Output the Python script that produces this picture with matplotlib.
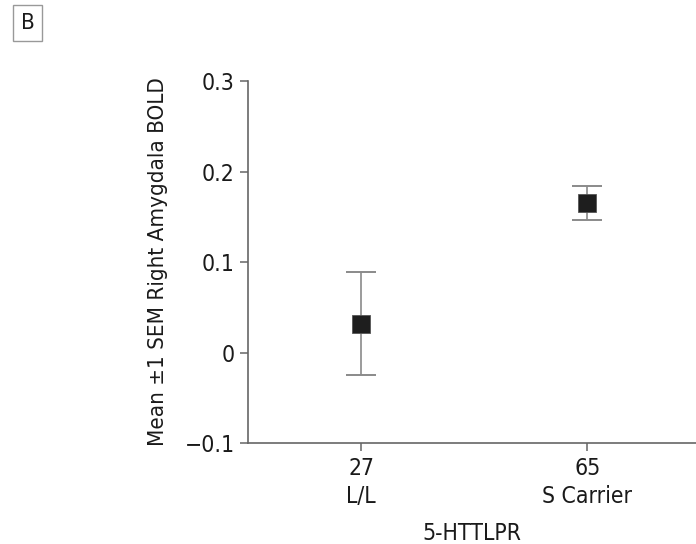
import matplotlib
matplotlib.use("Agg")
import matplotlib.pyplot as plt

# data
groups = ["L/L", "S Carrier"]
counts = [27, 65]
means = [0.032, 0.165]
sems = [0.057, 0.019]

plt.rcParams["font.family"] = ["DejaVu Sans"]
plt.rcParams["font.stretch"] = "condensed"

fig = plt.figure(figsize=(6.96, 5.44), dpi=100)
ax = fig.add_axes([0.3563, 0.1857, 0.6437, 0.665])

x = list(range(len(groups)))
ax.errorbar(x, means, yerr=sems, fmt="none", ecolor="#8a8a8a",
            elinewidth=1.2, capsize=11, capthick=1.4, zorder=1)
ax.plot(x, means, "s", color="#1e1e1e", markersize=13,
        markeredgecolor="#555555", markeredgewidth=0.6, zorder=2)

ax.set_xlim(-0.5, 1.48)
ax.set_ylim(-0.1, 0.3)
ax.set_yticks([-0.1, 0, 0.1, 0.2, 0.3])
ax.set_yticklabels(["\u22120.1", "0", "0.1", "0.2", "0.3"])
ax.set_xticks(x)
ax.set_xticklabels([f"{c}\n{g}" for c, g in zip(counts, groups)],
                   linespacing=1.3)

for side in ("top", "right"):
    ax.spines[side].set_visible(False)
for side in ("left", "bottom"):
    ax.spines[side].set_color("#666666")
    ax.spines[side].set_linewidth(1.2)
ax.tick_params(axis="both", colors="#666666", labelcolor="#1a1a1a",
               labelsize=16.5, length=6, width=1.1)
ax.tick_params(axis="x", pad=4)

ax.set_ylabel("Mean \u00b11 SEM Right Amygdala BOLD", fontsize=16,
              color="#1a1a1a", labelpad=12)
ax.set_xlabel("5-HTTLPR", fontsize=16.5, color="#1a1a1a", labelpad=10)

fig.text(0.040, 0.958, "B", fontsize=16, color="#1a1a1a",
         ha="center", va="center",
         bbox=dict(boxstyle="square,pad=0.35", fc="white",
                   ec="#999999", lw=1.0))

fig.savefig("out.png", dpi=100)
